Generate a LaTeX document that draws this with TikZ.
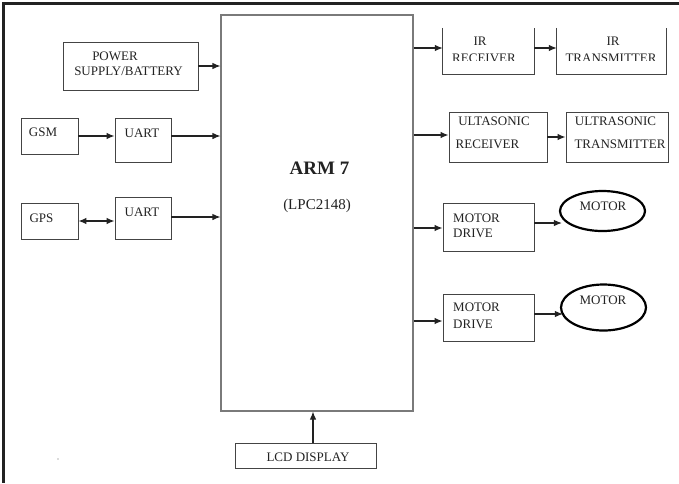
\documentclass[tikz,border=0pt]{standalone}
\usepackage{fontspec}
\setmainfont{Liberation Serif}
\usetikzlibrary{arrows.meta,shapes.geometric}
\definecolor{ink}{HTML}{222222}
\definecolor{edge}{HTML}{444444}
\definecolor{armedge}{HTML}{7A7A7A}
\begin{document}
\begin{tikzpicture}[x=1pt,y=-1pt,
  box/.style={draw=edge,line width=0.9pt,rectangle,inner sep=0pt},
  openbox/.style={draw=none,rectangle,inner sep=0pt},
  motor/.style={draw=black,line width=2.2pt,ellipse,inner sep=0pt},
  lbl/.style={inner sep=0pt,text=ink,font=\fontsize{13}{13}\selectfont,text height=8.5pt,text depth=0pt},
  arr/.style={draw=ink,line width=1.1pt,-{Latex[length=8pt,width=6.5pt]}},
  darr/.style={draw=ink,line width=1.1pt,{Latex[length=8pt,width=6.5pt]}-{Latex[length=8pt,width=6.5pt]}}]
\useasboundingbox (0,0) rectangle (679,483);
% outer frame (top and left only visible)
\draw[line width=2.6pt,draw=ink] (679,3.5) -- (3.5,3.5) -- (3.5,483);
% ARM block
\node[draw=armedge,line width=1.1pt,rectangle,minimum width=192pt,minimum height=396pt,inner sep=0pt] (arm) at (317,213) {};
\node[inner sep=0pt,text=ink,font=\fontsize{19}{19}\selectfont\bfseries,text height=12.5pt,text depth=0pt] (armt) at (319.5,168.5) {ARM 7};
\node[inner sep=0pt,text=ink,font=\fontsize{15}{15}\selectfont,text height=10.5pt,text depth=0pt] (armn) at (317,204.5) {(LPC2148)};
% left side
\node[box,minimum width=135pt,minimum height=48pt] (pw) at (130.5,66) {};
\node[lbl] (pwt1) at (115,56) {POWER};
\node[lbl] (pwt2) at (128.5,71) {SUPPLY/BATTERY};
\node[box,minimum width=57pt,minimum height=36pt] (gsm) at (49.5,136) {};
\node[lbl] (gsmt) at (43,132) {GSM};
\node[box,minimum width=56pt,minimum height=44pt] (u1) at (143,140) {};
\node[lbl] (u1t) at (142,133) {UART};
\node[box,minimum width=57pt,minimum height=36pt] (gps) at (49.5,221) {};
\node[lbl] (gpst) at (41.5,218) {GPS};
\node[box,minimum width=56pt,minimum height=42pt] (u2) at (143,218) {};
\node[lbl] (u2t) at (142,212) {UART};
% LCD
\node[box,minimum width=141pt,minimum height=25pt] (lcd) at (305.5,455.5) {};
\node[lbl] (lcdt) at (308,457) {LCD DISPLAY};
% IR blocks (open top)
\node[openbox,minimum width=91pt,minimum height=46pt] (irr) at (488.5,51) {};
\draw[edge,line width=0.9pt] (irr.north west) -- (irr.south west) -- (irr.south east) -- (irr.north east);
\node[openbox,minimum width=109pt,minimum height=46pt] (irt) at (611.5,51) {};
\draw[edge,line width=0.9pt] (irt.north west) -- (irt.south west) -- (irt.south east) -- (irt.north east);
\node[lbl] (irrt1) at (480,41) {IR};
\node[lbl] (irtt1) at (613,41) {IR};
\begin{scope}
\clip (430,45) rectangle (679,60.5);
\node[lbl] (irrt2) at (484,58) {RECEIVER};
\node[lbl] (irtt2) at (611,58) {TRANSMITTER};
\end{scope}
% ultrasonic
\node[box,minimum width=98pt,minimum height=50pt] (usr) at (498,137) {};
\node[lbl] (usrt1) at (494,121) {ULTASONIC};
\node[lbl] (usrt2) at (487.5,144) {RECEIVER};
\node[box,minimum width=102pt,minimum height=50pt] (ust) at (617,137) {};
\node[lbl] (ustt1) at (615.5,121) {ULTRASONIC};
\node[lbl] (ustt2) at (620,144) {TRANSMITTER};
% motor drives
\node[box,minimum width=91pt,minimum height=48pt] (md1) at (488.5,227) {};
\node[lbl,anchor=west] (md1t1) at (453,218) {MOTOR};
\node[lbl,anchor=west] (md1t2) at (453,233) {DRIVE};
\node[box,minimum width=91pt,minimum height=47pt] (md2) at (488.5,317.5) {};
\node[lbl,anchor=west] (md2t1) at (453,307) {MOTOR};
\node[lbl,anchor=west] (md2t2) at (453,324) {DRIVE};
% motors
\node[motor,minimum width=85pt,minimum height=40pt] (m1) at (602.5,211) {};
\node[lbl] (m1t) at (603,206) {MOTOR};
\node[motor,minimum width=85pt,minimum height=46pt] (m2) at (603.5,307.5) {};
\node[lbl] (m2t) at (603,300) {MOTOR};
% small dot
\fill[ink!70] (58,459) circle (0.6pt);
% connectors
\draw[arr] (pw.east) -- (pw.east -| arm.west);
\draw[arr] (gsm.east) -- (gsm.east -| u1.west);
\draw[arr] (gsm.east -| u1.east) -- (gsm.east -| arm.west);
\draw[darr] (gps.east) -- (gps.east -| u2.west);
\draw[arr] ([yshift=1pt]u2.east) -- ([yshift=1pt]u2.east -| arm.west);
\draw[arr] ([xshift=7.5pt]lcd.north) -- ([xshift=7.5pt]lcd.north |- arm.south);
\draw[arr] ([yshift=3pt]irr.west -| arm.east) -- ([yshift=3pt]irr.west);
\draw[arr] ([yshift=3pt]irr.east) -- ([yshift=3pt]irt.west);
\draw[arr] ([yshift=2pt]usr.west -| arm.east) -- ([yshift=2pt]usr.west);
\draw[arr] (usr.east) -- (ust.west);
\draw[arr] ([yshift=-1pt]md1.west -| arm.east) -- ([yshift=-1pt]md1.west);
\draw[arr] ([yshift=4pt]md1.east) -- ([xshift=3pt,yshift=4pt]md1.east -| m1.west);
\draw[arr] ([yshift=-3.5pt]md2.west -| arm.east) -- ([yshift=-3.5pt]md2.west);
\draw[arr] ([yshift=3.5pt]md2.east) -- ([xshift=3pt,yshift=3.5pt]md2.east -| m2.west);
\end{tikzpicture}
\end{document}
